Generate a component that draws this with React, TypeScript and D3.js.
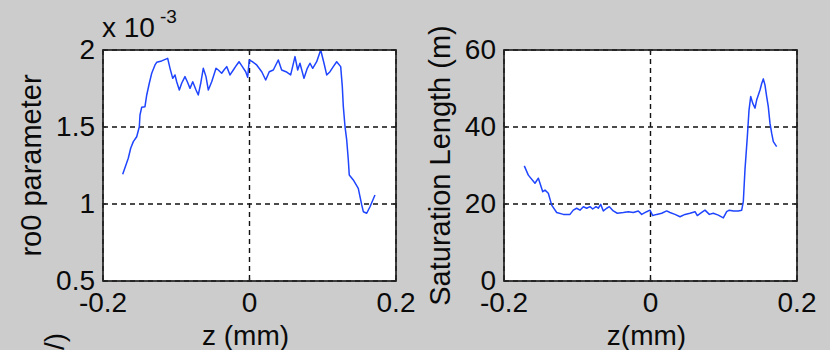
import React from "react";
import * as d3 from "d3";

// ---- data ----
const leftZ = [
  -0.1731, -0.1655, -0.1622, -0.1586, -0.154, -0.1504, -0.1495, -0.1472, -0.1427, -0.1403,
  -0.1368, -0.1335, -0.129, -0.1267, -0.1199, -0.1117, -0.1085, -0.1048, -0.1017, -0.0994,
  -0.0958, -0.0926, -0.0881, -0.0849, -0.0812, -0.0775, -0.073, -0.0699, -0.0666, -0.0631,
  -0.0594, -0.0562, -0.0516, -0.0457, -0.0426, -0.038, -0.0348, -0.0311, -0.0266, -0.0221,
  -0.0175, -0.0143, -0.0098, -0.0052, -0.0025, -0.0003, 0.0038, 0.0098, 0.0167, 0.0221,
  0.027, 0.0325, 0.0393, 0.0439, 0.0498, 0.0562, 0.0621, 0.0658, 0.0689, 0.0744,
  0.0789, 0.0826, 0.0863, 0.0917, 0.0972, 0.1017, 0.1054, 0.1099, 0.1144, 0.119,
  0.1245, 0.1267, 0.1281, 0.1304, 0.1327, 0.1349, 0.1362, 0.1417, 0.1485, 0.1532,
  0.1554, 0.16, 0.1645, 0.1713,
];
const leftR = [
  1.193, 1.297, 1.362, 1.405, 1.437, 1.502, 1.578, 1.628, 1.632, 1.708,
  1.784, 1.849, 1.903, 1.92, 1.929, 1.946, 1.881, 1.816, 1.838, 1.794,
  1.74, 1.784, 1.827, 1.794, 1.751, 1.794, 1.74, 1.708, 1.784, 1.881,
  1.827, 1.74, 1.794, 1.881, 1.87, 1.849, 1.87, 1.892, 1.838, 1.87,
  1.903, 1.924, 1.892, 1.859, 1.823, 1.935, 1.924, 1.903, 1.859, 1.805,
  1.859, 1.87, 1.935, 1.87, 1.859, 1.838, 1.957, 1.87, 1.914, 1.816,
  1.881, 1.914, 1.881, 1.924, 2.0, 1.914, 1.838, 1.859, 1.892, 1.924,
  1.892, 1.762, 1.632, 1.502, 1.416, 1.286, 1.188, 1.156, 1.102, 0.994,
  0.95, 0.94, 0.982, 1.058,
];

const rightZ = [
  -0.1723, -0.1668, -0.1577, -0.1531, -0.1471, -0.144, -0.1395, -0.1349, -0.1281, -0.119,
  -0.1099, -0.1054, -0.1008, -0.0963, -0.0917, -0.0871, -0.0826, -0.0789, -0.0744, -0.0713,
  -0.068, -0.0644, -0.0598, -0.0562, -0.0508, -0.0453, -0.0371, -0.0303, -0.0235, -0.0167,
  -0.012, -0.0052, -0.0007, 0.003, 0.0085, 0.0153, 0.0221, 0.0266, 0.0334, 0.0403,
  0.0471, 0.0539, 0.0608, 0.0639, 0.0699, 0.0744, 0.0803, 0.0857, 0.0926, 0.0994,
  0.104, 0.1076, 0.1131, 0.1199, 0.1245, 0.1267, 0.129, 0.1322, 0.1345, 0.1368,
  0.1395, 0.1427, 0.1449, 0.1472, 0.1495, 0.1518, 0.154, 0.1563, 0.1586, 0.1608,
  0.1631, 0.1654, 0.1677, 0.1722,
];
const rightL = [
  29.9, 27.5, 25.4, 26.7, 23.2, 23.6, 22.8, 19.7, 17.8, 17.3,
  17.3, 18.4, 18.9, 18.4, 19.3, 18.9, 19.3, 18.7, 19.3, 18.9,
  19.9, 18.2, 18.9, 19.3, 18.2, 17.6, 17.8, 18.0, 17.8, 18.2,
  17.3, 18.0, 18.4, 17.0, 17.3, 17.6, 18.2, 17.8, 17.3, 16.7,
  17.3, 17.6, 18.0, 17.0, 17.8, 18.4, 17.3, 17.6, 17.1, 16.4,
  18.0, 18.4, 18.2, 18.2, 18.4, 20.6, 29.0, 37.5, 44.4, 47.9,
  46.2, 44.9, 47.0, 48.3, 49.6, 51.3, 52.5, 50.9, 47.9, 45.3,
  41.0, 38.4, 36.2, 34.9,
];

const xTicks = [-0.2, 0, 0.2];
const xTickLabels = ["-0.2", "0", "0.2"];
const leftYTicks = [0.5, 1, 1.5, 2];
const leftYTickLabels = ["0.5", "1", "1.5", "2"];
const rightYTicks = [0, 20, 40, 60];
const rightYTickLabels = ["0", "20", "40", "60"];

const FONT = "'Liberation Sans', Arial, Helvetica, sans-serif";
const TOP = 50;
const BOTTOM = 281;
const LINE = "#1f45ff";
const INK = "#0a0a0a";

type PanelProps = {
  x0: number;
  x1: number;
  zs: number[];
  vs: number[];
  yDomain: [number, number];
  yTicks: number[];
  yTickLabels: string[];
  xLabel: string;
  yLabel: string;
  yLabelX: number;
};

function Panel(p: PanelProps) {
  const x = d3.scaleLinear().domain([-0.2, 0.2]).range([p.x0, p.x1]);
  const y = d3.scaleLinear().domain(p.yDomain).range([BOTTOM, TOP]);
  const pts = p.zs.map((z, i) => [z, p.vs[i]] as [number, number]);
  const line = d3
    .line<[number, number]>()
    .x((d) => x(d[0]))
    .y((d) => y(d[1]));
  const tl = 3;
  return (
    <g>
      <rect x={p.x0} y={TOP} width={p.x1 - p.x0} height={BOTTOM - TOP} fill="#ffffff" />
      {xTicks.map((t) => (
        <line key={"gx" + t} x1={x(t)} x2={x(t)} y1={TOP} y2={BOTTOM} stroke="#111" strokeWidth={1.4} strokeDasharray="5,4" />
      ))}
      {p.yTicks.map((t) => (
        <line key={"gy" + t} x1={p.x0} x2={p.x1} y1={y(t)} y2={y(t)} stroke="#111" strokeWidth={1.4} strokeDasharray="5,4" />
      ))}
      {xTicks.map((t) => (
        <g key={"tx" + t}>
          <line x1={x(t)} x2={x(t)} y1={BOTTOM} y2={BOTTOM - tl} stroke="#222" strokeWidth={1.2} />
          <line x1={x(t)} x2={x(t)} y1={TOP} y2={TOP + tl} stroke="#222" strokeWidth={1.2} />
        </g>
      ))}
      {p.yTicks.map((t) => (
        <g key={"ty" + t}>
          <line x1={p.x0} x2={p.x0 + tl} y1={y(t)} y2={y(t)} stroke="#222" strokeWidth={1.2} />
          <line x1={p.x1} x2={p.x1 - tl} y1={y(t)} y2={y(t)} stroke="#222" strokeWidth={1.2} />
        </g>
      ))}
      <path d={line(pts) || ""} fill="none" stroke={LINE} strokeWidth={1.5} strokeLinejoin="round" />
      <rect x={p.x0} y={TOP} width={p.x1 - p.x0} height={BOTTOM - TOP} fill="none" stroke="#222" strokeWidth={1.7} />
      {xTicks.map((t, i) => (
        <text key={"lx" + t} x={x(t)} y={312} textAnchor="middle" fontSize={28} fill={INK} fontFamily={FONT}>
          {xTickLabels[i]}
        </text>
      ))}
      {p.yTicks.map((t, i) => (
        <text key={"ly" + t} x={p.x0 - 8} y={y(t) + 9} textAnchor="end" fontSize={28} fill={INK} fontFamily={FONT}>
          {p.yTickLabels[i]}
        </text>
      ))}
      <text x={(p.x0 + p.x1) / 2 - 4} y={345} textAnchor="middle" fontSize={28} fill={INK} fontFamily={FONT}>
        {p.xLabel}
      </text>
      <text
        transform={`translate(${p.yLabelX},${(TOP + BOTTOM) / 2}) rotate(-90)`}
        textAnchor="middle"
        fontSize={29}
        fill={INK}
        fontFamily={FONT}
      >
        {p.yLabel}
      </text>
    </g>
  );
}

export default function App() {
  return (
    <svg
      width={830}
      height={350}
      viewBox="0 0 830 350"
      style={{ position: "fixed", left: 0, top: 0, display: "block" }}
    >
      <rect x={0} y={0} width={830} height={350} fill="#cccccc" />
      <Panel
        x0={103}
        x1={396}
        zs={leftZ}
        vs={leftR}
        yDomain={[0.5, 2]}
        yTicks={leftYTicks}
        yTickLabels={leftYTickLabels}
        xLabel="z (mm)"
        yLabel="ro0 parameter"
        yLabelX={41}
      />
      <Panel
        x0={504}
        x1={797}
        zs={rightZ}
        vs={rightL}
        yDomain={[0, 60]}
        yTicks={rightYTicks}
        yTickLabels={rightYTickLabels}
        xLabel="z(mm)"
        yLabel="Saturation Length (m)"
        yLabelX={450}
      />
      <text x={102} y={37} fontSize={28} fill={INK} fontFamily={FONT}>
        x 10
      </text>
      <text x={160} y={23} fontSize={19} fill={INK} fontFamily={FONT}>
        -3
      </text>
      <text transform="translate(64,333) rotate(-90)" textAnchor="end" fontSize={28} fill={INK} fontFamily={FONT}>
        (1/)
      </text>
    </svg>
  );
}
